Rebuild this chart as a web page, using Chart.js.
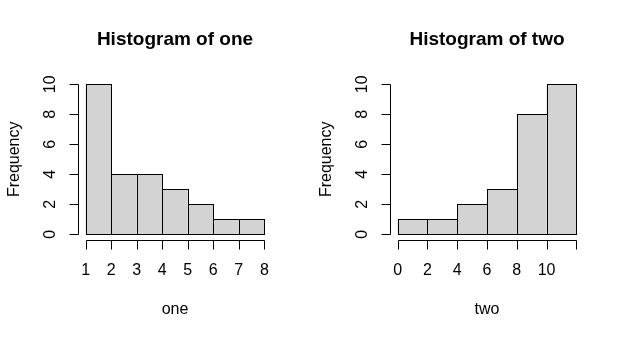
<!DOCTYPE html>
<html>
<head>
<meta charset="utf-8">
<title>Histograms</title>
<script src="https://cdn.jsdelivr.net/npm/chart.js@4.4.1/dist/chart.umd.min.js"></script>
<style>
  html, body { margin: 0; padding: 0; background: #fff; }
  .row { display: flex; width: 624px; height: 338px; }
  canvas { display: block; }
</style>
</head>
<body>
<div class="row">
  <canvas id="hist-one" width="312" height="338"></canvas>
  <canvas id="hist-two" width="312" height="338"></canvas>
</div>
<script>
// Bin edges and counts for each histogram
const oneBreaks = [1, 2, 3, 4, 5, 6, 7, 8];
const oneCounts = [10, 4, 4, 3, 2, 1, 1];
const oneXTicks = [1, 2, 3, 4, 5, 6, 7, 8];
const oneXLabels = ["1", "2", "3", "4", "5", "6", "7", "8"];

const twoBreaks = [0, 2, 4, 6, 8, 10, 12];
const twoCounts = [1, 1, 2, 3, 8, 10];
const twoXTicks = [0, 2, 4, 6, 8, 10, 12];
const twoXLabels = ["0", "2", "4", "6", "8", "10", ""];

const yTicks = [0, 2, 4, 6, 8, 10];
const yLabels = ["0", "2", "4", "6", "8", "10"];

const FONT = "'Liberation Sans', Arial, sans-serif";
const FILL = "#d3d3d3";

const snap = (v) => Math.round(v) + 0.5;

// crisp 1px outline around every bar, shared edges drawn once
const barOutline = {
  id: "barOutline",
  afterDatasetsDraw(chart) {
    const { ctx } = chart;
    ctx.save();
    ctx.strokeStyle = "#000";
    ctx.lineWidth = 1;
    chart.getDatasetMeta(0).data.forEach((bar) => {
      const { x, y, base, width } = bar.getProps(["x", "y", "base", "width"], true);
      const l = snap(x - width / 2), r = snap(x + width / 2);
      const t = snap(y), b = snap(base);
      ctx.strokeRect(l, t, r - l, b - t);
    });
    ctx.restore();
  },
};

// base-graphics style axes: lines only span first..last tick, ticks point outward
const rAxes = {
  id: "rAxes",
  afterDraw(chart, args, opts) {
    const { ctx, chartArea: a, scales } = chart;
    const xs = scales.x, ys = scales.y;
    ctx.save();
    ctx.strokeStyle = "#000";
    ctx.fillStyle = "#000";
    ctx.lineWidth = 1;

    // x axis
    const xb = snap(a.bottom);
    const xp = opts.xTicks.map((t) => snap(xs.getPixelForValue(t)));
    ctx.beginPath();
    ctx.moveTo(xp[0], xb);
    ctx.lineTo(xp[xp.length - 1], xb);
    xp.forEach((p) => { ctx.moveTo(p, xb); ctx.lineTo(p, xb + 9); });
    ctx.stroke();
    ctx.font = "16px " + FONT;
    ctx.textAlign = "center";
    ctx.textBaseline = "alphabetic";
    opts.xLabels.forEach((l, i) => ctx.fillText(l, xs.getPixelForValue(opts.xTicks[i]), a.bottom + 35));

    // y axis
    const yl = snap(a.left) - 1;
    const yp = opts.yTicks.map((t) => snap(ys.getPixelForValue(t)));
    ctx.beginPath();
    ctx.moveTo(yl, yp[0]);
    ctx.lineTo(yl, yp[yp.length - 1]);
    yp.forEach((p) => { ctx.moveTo(yl, p); ctx.lineTo(yl - 9, p); });
    ctx.stroke();
    opts.yLabels.forEach((l, i) => {
      ctx.save();
      ctx.translate(a.left - 23.5, ys.getPixelForValue(opts.yTicks[i]));
      ctx.rotate(-Math.PI / 2);
      ctx.fillText(l, 0, 0);
      ctx.restore();
    });

    // axis titles
    ctx.fillText(opts.xTitle, (a.left + a.right) / 2, a.bottom + 74);
    ctx.save();
    ctx.translate(a.left - 60, (a.top + a.bottom) / 2);
    ctx.rotate(-Math.PI / 2);
    ctx.fillText(opts.yTitle, 0, 0);
    ctx.restore();

    // main title
    ctx.font = "bold 19px " + FONT;
    ctx.fillText(opts.title, (a.left + a.right) / 2, a.top - 33.5);
    ctx.restore();
  },
};

function histogram(canvasId, breaks, counts, xTicks, xLabels, name) {
  const lo = breaks[0], hi = breaks[breaks.length - 1];
  const padX = (hi - lo) * 0.04;
  const yMax = Math.max(...counts);
  const points = counts.map((c, i) => ({ x: (breaks[i] + breaks[i + 1]) / 2, y: c }));

  return new Chart(document.getElementById(canvasId), {
    type: "bar",
    data: {
      datasets: [{
        data: points,
        backgroundColor: FILL,
        borderWidth: 0,
        barPercentage: 1,
        categoryPercentage: 1,
        inflateAmount: 0,
      }],
    },
    options: {
      responsive: false,
      animation: false,
      events: [],
      layout: { padding: { left: 78.5, right: 40.5, top: 78.3, bottom: 97.7 } },
      plugins: {
        legend: { display: false },
        tooltip: { enabled: false },
        title: { display: false },
        rAxes: {
          xTicks, xLabels, yTicks, yLabels,
          xTitle: name, yTitle: "Frequency",
          title: "Histogram of " + name,
        },
      },
      scales: {
        x: {
          type: "linear",
          display: false,
          offset: false,
          grid: { offset: false },
          min: lo - padX,
          max: hi + padX,
          // bin edges as ticks so the bar ruler uses the bin width
          afterBuildTicks: (s) => { s.ticks = breaks.map((v) => ({ value: v })); },
        },
        y: {
          display: false,
          min: -yMax * 0.04,
          max: yMax * 1.04,
        },
      },
    },
    plugins: [barOutline, rAxes],
  });
}

histogram("hist-one", oneBreaks, oneCounts, oneXTicks, oneXLabels, "one");
histogram("hist-two", twoBreaks, twoCounts, twoXTicks, twoXLabels, "two");
</script>
</body>
</html>
